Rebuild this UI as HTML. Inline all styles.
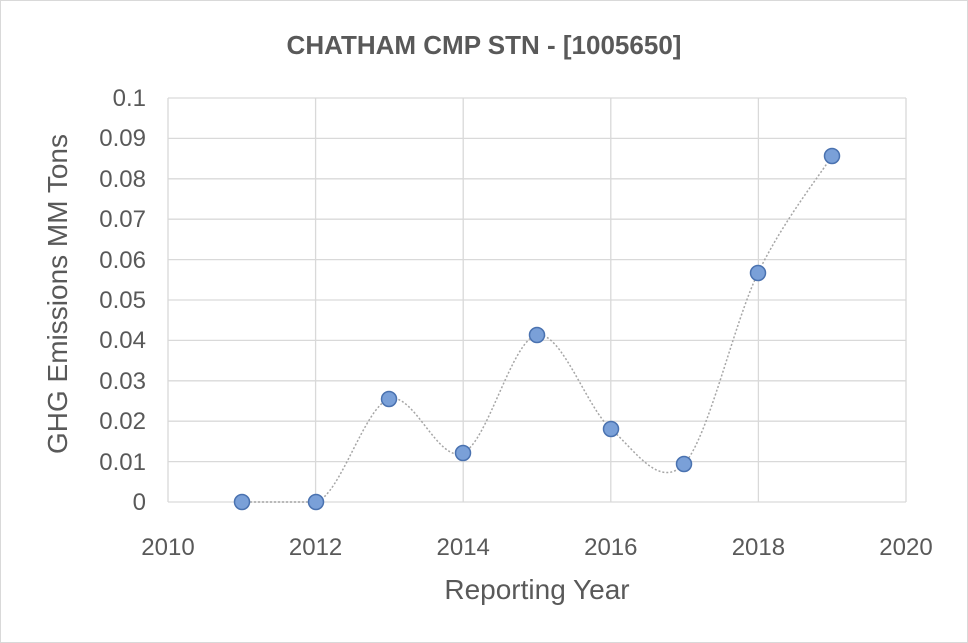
<!DOCTYPE html>
<html><head><meta charset="utf-8"><style>
html,body{margin:0;padding:0;background:#fff}
svg{display:block}
text{font-family:"Liberation Sans",sans-serif;fill:#595959}
</style></head><body>
<svg width="968" height="643" viewBox="0 0 968 643" xmlns="http://www.w3.org/2000/svg">
<rect x="0.5" y="0.5" width="967" height="642" fill="#fff" stroke="#d9d9d9"/>
<text x="484" y="54" font-size="26" font-weight="bold" text-anchor="middle">CHATHAM CMP STN - [1005650]</text>
<g stroke="#d9d9d9" stroke-width="1.3">
<line x1="168" y1="98" x2="906" y2="98"/><line x1="168" y1="138.4" x2="906" y2="138.4"/>
<line x1="168" y1="178.8" x2="906" y2="178.8"/><line x1="168" y1="219.2" x2="906" y2="219.2"/>
<line x1="168" y1="259.6" x2="906" y2="259.6"/><line x1="168" y1="300" x2="906" y2="300"/>
<line x1="168" y1="340.4" x2="906" y2="340.4"/><line x1="168" y1="380.8" x2="906" y2="380.8"/>
<line x1="168" y1="421.2" x2="906" y2="421.2"/><line x1="168" y1="461.6" x2="906" y2="461.6"/>
<line x1="168" y1="502" x2="906" y2="502"/>
<line x1="168" y1="98" x2="168" y2="502"/><line x1="315.6" y1="98" x2="315.6" y2="502"/>
<line x1="463.2" y1="98" x2="463.2" y2="502"/><line x1="610.8" y1="98" x2="610.8" y2="502"/>
<line x1="758.4" y1="98" x2="758.4" y2="502"/><line x1="906" y1="98" x2="906" y2="502"/>
</g>
<g font-size="24" text-anchor="end">
<text x="146" y="106">0.1</text><text x="146" y="146">0.09</text><text x="146" y="187">0.08</text>
<text x="146" y="227">0.07</text><text x="146" y="268">0.06</text><text x="146" y="308">0.05</text>
<text x="146" y="348">0.04</text><text x="146" y="389">0.03</text><text x="146" y="429">0.02</text>
<text x="146" y="470">0.01</text><text x="146" y="510">0</text>
</g>
<g font-size="24" text-anchor="middle">
<text x="168" y="555">2010</text><text x="315.6" y="555">2012</text><text x="463.2" y="555">2014</text>
<text x="610.8" y="555">2016</text><text x="758.4" y="555">2018</text><text x="906" y="555">2020</text>
</g>
<g font-size="28" text-anchor="middle">
<text x="537" y="599">Reporting Year</text>
<text transform="translate(67,294) rotate(-90)">GHG Emissions MM Tons</text>
</g>
<path d="M242,502 L316,502 C340.5,495 364.5,407.2 389,399 C413.5,390.8 438.3,463.7 463,453 C487.7,442.3 512.3,339 537,335 C561.7,331 586.5,407.5 611,429 C635.5,450.5 659.5,490 684,464 C708.5,438 733.3,324.3 758,273 C782.7,221.7 819.7,175.5 832,156" fill="none" stroke="#a6a6a6" stroke-width="1.5" stroke-dasharray="2,2"/>
<g fill="#7aa0d8" stroke="#4a72b0" stroke-width="1.5">
<circle cx="242" cy="502" r="7.5"/><circle cx="316" cy="502" r="7.5"/><circle cx="389" cy="399" r="7.5"/>
<circle cx="463" cy="453" r="7.5"/><circle cx="537" cy="335" r="7.5"/><circle cx="611" cy="429" r="7.5"/>
<circle cx="684" cy="464" r="7.5"/><circle cx="758" cy="273" r="7.5"/><circle cx="832" cy="156" r="7.5"/>
</g>
</svg>
</body></html>
